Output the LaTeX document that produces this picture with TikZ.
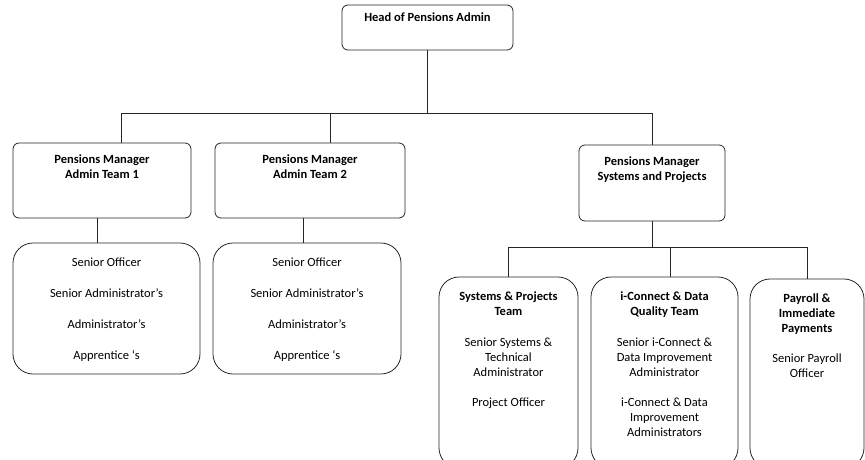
\documentclass[tikz,border=0pt]{standalone}
\usepackage{fontspec}
\setmainfont{Carlito}
\usetikzlibrary{positioning,calc}

\tikzset{
  box/.style={draw=black!85, line width=0.8pt, rounded corners=6pt, inner sep=0pt},
  mgr/.style={box, font=\fontsize{12.5}{15}\selectfont\bfseries},
  staff/.style={box, rounded corners=20pt, font=\fontsize{12.5}{15}\selectfont},
  link/.style={draw=black!85, line width=0.8pt},
}
% fixed size cell, text starts near the top
\newcommand{\cellbox}[4]{\parbox[c][#1][t]{#2}{\centering\vspace*{#3}#4\par}}

\begin{document}
\begin{tikzpicture}[x=1pt,y=-1pt]
\useasboundingbox (0,0) rectangle (865,460);

% managers
\node[mgr] (head) at (427.5,27.5) {\cellbox{45pt}{171pt}{7.5pt}{Head of Pensions Admin}};
\node[mgr] (m1) at (102,180.5) {\cellbox{75pt}{178pt}{11.5pt}{Pensions Manager\\Admin Team 1}};
\node[mgr] (m2) at (310,180.5) {\cellbox{75pt}{190pt}{11.5pt}{Pensions Manager\\Admin Team 2}};
\node[mgr] (m3) at (652,183) {\cellbox{76pt}{146pt}{11.5pt}{Pensions Manager\\Systems and Projects}};

% admin teams
\node[staff] (t1) at (106.5,308.5) {\cellbox{131pt}{187pt}{15pt}{Senior Officer\\[16pt]Senior Administrator’s\\[16pt]Administrator’s\\[16pt]Apprentice ‘s}};
\node[staff] (t2) at (307,308.5) {\cellbox{131pt}{188pt}{15pt}{Senior Officer\\[16pt]Senior Administrator’s\\[16pt]Administrator’s\\[16pt]Apprentice ‘s}};

% systems teams
\node[staff] (t3) at (508.5,372.5) {\cellbox{191pt}{139pt}{14.5pt}{\textbf{Systems \& Projects}\\\textbf{Team}\\[16pt]Senior Systems \&\\Technical\\Administrator\\[15pt]Project Officer}};
\node[staff] (t4) at (664.5,372.5) {\cellbox{191pt}{147pt}{14.5pt}{\textbf{i-Connect \& Data}\\\textbf{Quality Team}\\[16pt]Senior i-Connect \&\\Data Improvement\\Administrator\\[15pt]i-Connect \& Data\\Improvement\\Administrators}};
\node[staff] (t5) at (807,373.5) {\cellbox{189pt}{114pt}{14.5pt}{\textbf{Payroll \&}\\\textbf{Immediate}\\\textbf{Payments}\\[15pt]Senior Payroll\\Officer}};

% connectors
\coordinate (bus) at (0,113);
\coordinate (bus2) at (0,247);
\draw[link] (head.south) -- (head.south |- bus);
\draw[link] ([xshift=19pt]m1.north) |- (bus -| m3.north) -- (m3.north);
\draw[link] ([xshift=20pt]m2.north) -- ([xshift=20pt]m2.north |- bus);
\draw[link] ([xshift=-5pt]m1.south) -- ([xshift=-5pt]m1.south |- t1.north);
\draw[link] ([xshift=-7pt]m2.south) -- ([xshift=-7pt]m2.south |- t2.north);
\draw[link] (m3.south) -- (m3.south |- bus2);
\draw[link] (t3.north) |- (bus2 -| t5.north) -- (t5.north);
\draw[link] ([xshift=6pt]t4.north) -- ([xshift=6pt]t4.north |- bus2);
\end{tikzpicture}
\end{document}
